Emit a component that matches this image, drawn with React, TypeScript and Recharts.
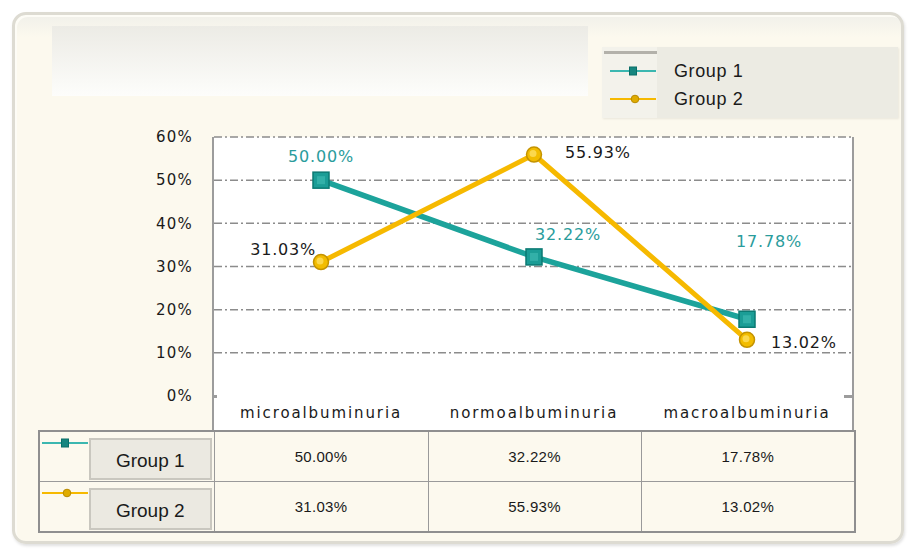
import React from 'react';
import { LineChart, Line, XAxis, YAxis, CartesianGrid, LabelList } from 'recharts';

const categories = ['microalbuminuria', 'normoalbuminuria', 'macroalbuminuria'];
const group1 = [50.0, 32.22, 17.78];
const group2 = [31.03, 55.93, 13.02];
const seriesNames = ['Group 1', 'Group 2'];
const yTicks = [0, 10, 20, 30, 40, 50, 60];

const data = categories.map((name, i) => ({ name, g1: group1[i], g2: group2[i] }));

const TEAL = '#1ca39b';
const GOLD = '#f6b900';
const fmt = (v: number) => `${v.toFixed(2)}%`;

// label offsets from each point, Excel put them by hand
const g1Offsets = [
  { dx: 0, dy: -24, anchor: 'middle' },
  { dx: 34, dy: -22, anchor: 'middle' },
  { dx: 22, dy: -78, anchor: 'middle' },
];
const g2Offsets = [
  { dx: -5, dy: -13, anchor: 'end' },
  { dx: 31, dy: -2, anchor: 'start' },
  { dx: 24, dy: 3, anchor: 'start' },
];

const SquareDot = (props: any) => {
  const { cx, cy, index } = props;
  if (cx == null || cy == null) return null;
  return (
    <g key={`sq-${index}`}>
      <rect x={cx - 8} y={cy - 8} width={16} height={16} fill="#1b9d96" stroke="#0b7a73" strokeWidth={1.5} />
      <rect x={cx - 4} y={cy - 4} width={8} height={8} fill="#45c0b8" opacity={0.55} />
    </g>
  );
};

const CircleDot = (props: any) => {
  const { cx, cy, index } = props;
  if (cx == null || cy == null) return null;
  return (
    <g key={`ci-${index}`}>
      <circle cx={cx} cy={cy} r={7.5} fill="#f2bc00" stroke="#c49300" strokeWidth={1.5} />
      <circle cx={cx - 1} cy={cy - 1} r={3.5} fill="#fbd84e" />
    </g>
  );
};

const makeLabel = (offsets: any[], color: string) => (p: any) => {
  const { x, y, value, index } = p;
  const o = offsets[index];
  return (
    <text
      key={`lb-${index}`}
      x={x + o.dx}
      y={y + o.dy}
      textAnchor={o.anchor}
      dominantBaseline="central"
      fill={color}
      fontSize={16}
      letterSpacing={0.8}
      fontFamily="DejaVu Sans, sans-serif"
    >
      {fmt(value)}
    </text>
  );
};

const LegendIcon = ({ kind, width = 46 }: { kind: 'square' | 'circle'; width?: number }) => (
  <svg width={width} height={10} style={{ display: 'block' }}>
    <line x1={0} y1={5} x2={width} y2={5} stroke={kind === 'square' ? '#3bb7b0' : GOLD} strokeWidth={2} />
    {kind === 'square' ? (
      <rect x={width / 2 - 3.5} y={1} width={7} height={8} fill="#16867f" stroke="#0b6e68" strokeWidth={1} />
    ) : (
      <circle cx={width / 2 + 2} cy={5} r={3.8} fill="#e0ac00" stroke="#b88a00" strokeWidth={1} />
    )}
  </svg>
);

const cellBorder = '1px solid #9a9a9a';

export default function App() {
  return (
    <div style={{ position: 'absolute', left: 0, top: 0, width: 911, height: 551, background: '#fff', overflow: 'hidden' }}>
      {/* outer panel */}
      <div
        style={{
          position: 'absolute',
          left: 12,
          top: 12,
          width: 892,
          height: 532,
          borderRadius: 14,
          border: '3px solid #dddbd2',
          background: 'linear-gradient(180deg, #f1f0ea 0px, #fcf9ee 22px, #fcf9ee 100%)',
          boxShadow: 'inset 2px 2px 0 #fdfcf6, 1px 2px 3px rgba(0,0,0,0.12)',
          boxSizing: 'border-box',
        }}
      />
      {/* title box */}
      <div
        style={{
          position: 'absolute',
          left: 52,
          top: 26,
          width: 536,
          height: 70,
          background: 'linear-gradient(180deg, #ecebe5 0%, #fdfdfb 100%)',
        }}
      />
      {/* legend */}
      <div style={{ position: 'absolute', left: 602, top: 47, width: 296, height: 71, background: '#ecebe3', boxShadow: '1px 1px 2px rgba(0,0,0,0.08)' }}>
        <div style={{ position: 'absolute', left: 0, top: 0, width: 55, height: 71, background: '#f3f2eb' }} />
        <div style={{ position: 'absolute', left: 2, top: 4, width: 53, height: 3, background: '#b3b1aa' }} />
        {seriesNames.map((s, i) => (
          <div key={s} style={{ position: 'absolute', left: 8, top: 13 + i * 28, display: 'flex', alignItems: 'center', height: 22 }}>
            <LegendIcon kind={i === 0 ? 'square' : 'circle'} />
            <span style={{ marginLeft: 18, fontFamily: 'Liberation Sans, Arial, sans-serif', fontSize: 18, letterSpacing: 0.6, color: '#1a1a1a' }}>{s}</span>
          </div>
        ))}
      </div>
      {/* plot area background */}
      <div
        style={{
          position: 'absolute',
          left: 212,
          top: 137,
          width: 642,
          height: 293,
          background: '#fff',
          borderLeft: '2px solid #9c9c9c',
          borderRight: '2px solid #9c9c9c',
          boxSizing: 'border-box',
        }}
      />
      <div style={{ position: 'absolute', left: 844, top: 395, width: 10, height: 3, background: '#9c9c9c' }} />
      <div style={{ position: 'absolute', left: 214, top: 395, width: 3, height: 3, background: '#9c9c9c' }} />

      <div style={{ position: 'absolute', left: 0, top: 0 }}>
        <LineChart width={911} height={551} data={data} margin={{ top: 137, right: 57, bottom: 125, left: 150 }}>
          <CartesianGrid vertical={false} horizontalValues={[10, 20, 30, 40, 50, 60]} stroke="#8c8c8c" strokeWidth={1.5} strokeDasharray="8 3 2 3" />
          <XAxis
            dataKey="name"
            padding={{ left: 107, right: 107 }}
            axisLine={false}
            tickLine={false}
            tickMargin={5}
            height={30}
            interval={0}
            tick={{ fill: '#1a1a1a', fontSize: 15, fontFamily: 'DejaVu Sans, sans-serif', letterSpacing: 1.9 }}
          />
          <YAxis
            domain={[0, 60]}
            ticks={yTicks}
            tickFormatter={(v) => `${v}%`}
            axisLine={false}
            tickLine={false}
            width={64}
            tickMargin={15}
            tick={{ fill: '#1a1a1a', fontSize: 15, fontFamily: 'DejaVu Sans, sans-serif', letterSpacing: 1.2 }}
          />
          <Line type="linear" dataKey="g1" name={seriesNames[0]} stroke={TEAL} strokeWidth={5.5} dot={<SquareDot />} activeDot={false} isAnimationActive={false}>
            <LabelList dataKey="g1" content={makeLabel(g1Offsets, '#2a9c9c')} />
          </Line>
          <Line type="linear" dataKey="g2" name={seriesNames[1]} stroke={GOLD} strokeWidth={5} dot={<CircleDot />} activeDot={false} isAnimationActive={false}>
            <LabelList dataKey="g2" content={makeLabel(g2Offsets, '#1a1a1a')} />
          </Line>
        </LineChart>
      </div>

      {/* data table */}
      <table
        style={{
          position: 'absolute',
          left: 38,
          top: 430,
          width: 816,
          borderCollapse: 'collapse',
          border: '2px solid #8f8f8f',
          tableLayout: 'fixed',
          fontFamily: 'Liberation Sans, Arial, sans-serif',
          background: '#fcf9ee',
        }}
      >
        <colgroup>
          <col style={{ width: 50 }} />
          <col style={{ width: 125 }} />
          <col style={{ width: 214 }} />
          <col style={{ width: 213 }} />
          <col style={{ width: 214 }} />
        </colgroup>
        <tbody>
          {[group1, group2].map((vals, r) => (
            <tr key={r} style={{ height: r === 0 ? 50 : 48 }}>
              <td style={{ borderTop: cellBorder, borderBottom: cellBorder, verticalAlign: 'top', padding: '6px 0 0 2px' }}>
                <LegendIcon kind={r === 0 ? 'square' : 'circle'} width={46} />
              </td>
              <td style={{ padding: '3px 2px 1px 0', borderTop: cellBorder, borderBottom: cellBorder }}>
                <div
                  style={{
                    height: 42,
                    background: '#ebe9e1',
                    border: '2px solid #c9c7bf',
                    boxSizing: 'border-box',
                    display: 'flex',
                    alignItems: 'center',
                    justifyContent: 'center',
                    fontSize: 19,
                    color: '#1a1a1a',
                    marginTop: 3,
                    paddingTop: 4,
                  }}
                >
                  {seriesNames[r]}
                </div>
              </td>
              {vals.map((v, i) => (
                <td key={i} style={{ border: cellBorder, textAlign: 'center', fontSize: 15, letterSpacing: 0.3, color: '#1a1a1a', padding: 0 }}>
                  {fmt(v)}
                </td>
              ))}
            </tr>
          ))}
        </tbody>
      </table>
    </div>
  );
}
